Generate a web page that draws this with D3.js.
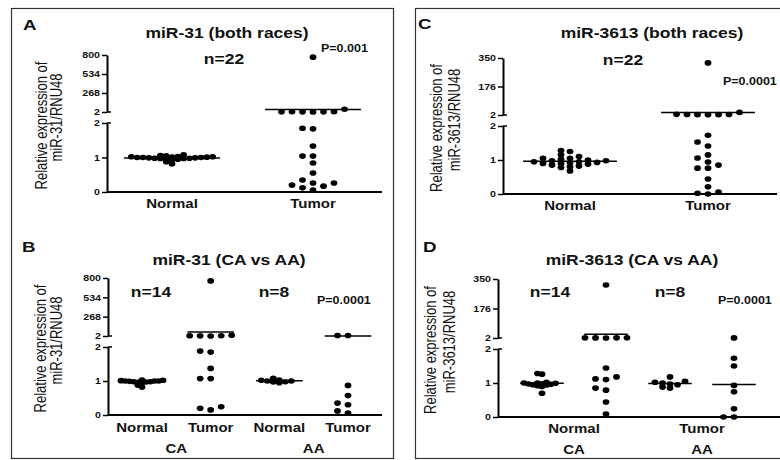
<!DOCTYPE html>
<html>
<head>
<meta charset="utf-8">
<script src="https://cdn.jsdelivr.net/npm/d3@7"></script>
<style>
body { margin: 0; background: #fff; }
svg { display: block; }
text { font-family: "Liberation Sans", Arial, sans-serif; fill: #111; }
</style>
</head>
<body>
<script>
// ---- values ----
var lowerTicks = [0, 1, 2];
var ticks31 = [2, 268, 534, 800];
var ticks3613 = [2, 176, 350];

// miR-31, both races (n=22)
var miR31NormalAll = [0.98, 1.0, 1.02, 0.97, 1.01, 0.99, 1.03, 0.96, 1.0, 1.08, 1.05, 0.95, 0.81, 0.88, 0.98, 1.01, 0.99, 1.06, 1.0, 0.97, 1.02, 0.93];
var miR31TumorAll = [770, 3, 4, 4, 5, 5, 6, 40, 1.85, 1.83, 1.33, 1.04, 1.04, 0.84, 0.55, 0.35, 0.26, 0.17, 0.06, 0.12, 0.2, 0.26];

// miR-3613, both races (n=22)
var miR3613NormalAll = [1.28, 1.25, 1.15, 1.1, 1.05, 1.05, 1.0, 0.98, 0.95, 0.95, 0.92, 0.9, 0.9, 0.88, 0.85, 0.82, 0.8, 0.78, 0.68, 0.98, 1.02, 0.93];
var miR3613TumorAll = [320, 18, 3, 4, 4, 5, 5, 6, 1.73, 1.53, 1.41, 1.15, 1.06, 0.94, 0.85, 0.76, 0.76, 0.44, 0.21, 0.06, 0.0, 0.02];

// miR-31, CA (n=14) vs AA (n=8)
var miR31NormalCA = [1.0, 0.98, 1.02, 0.97, 1.0, 0.99, 1.01, 0.96, 1.03, 0.98, 0.82, 0.88, 0.95, 1.0];
var miR31TumorCA = [760, 3, 4, 5, 6, 12, 1.88, 1.85, 1.37, 1.07, 1.07, 0.24, 0.15, 0.2];
var miR31NormalAA = [1.03, 0.98, 1.0, 1.08, 0.95, 1.0, 0.97, 1.02];
var miR31TumorAA = [8, 9, 0.87, 0.57, 0.3, 0.35, 0.06, 0.12];

// miR-3613, CA (n=14) vs AA (n=8)
var miR3613NormalCA = [1.26, 1.28, 0.97, 0.95, 1.0, 0.92, 0.98, 1.02, 0.94, 0.9, 0.99, 0.96, 0.7, 1.0];
var miR3613TumorCA = [315, 2.4, 2.6, 2.8, 3.0, 3.2, 1.44, 1.18, 1.12, 1.1, 0.85, 0.79, 0.44, 0.09];
var miR3613NormalAA = [1.18, 1.0, 1.05, 0.95, 1.02, 0.88, 0.85, 0.97];
var miR3613TumorAA = [2.5, 1.73, 1.5, 0.93, 0.74, 0.24, 0.0, 0.0];

var W = 780, H = 460;
var SX = 1.25;        // the source figure is stretched sideways
// [column spacing, vertical clearance] for the dot swarm
var LOOSE = [10.5, 5];

var svg = d3.select('body').append('svg').attr('width', W).attr('height', H);

// panel frames
svg.append('rect').attr('x', 11.5).attr('y', 8.5).attr('width', 382).attr('height', 450)
  .attr('fill', 'none').attr('stroke', '#333').attr('stroke-width', 1.2);
svg.append('rect').attr('x', 415.5).attr('y', 8.5).attr('width', 380).attr('height', 450)
  .attr('fill', 'none').attr('stroke', '#333').attr('stroke-width', 1.2);

function txt(g, x, y, s, o) {
  o = o || {};
  return g.append('text')
    .attr('transform', 'translate(' + x + ',' + y + ') scale(' + SX + ',1)' + (o.rot ? ' rotate(' + o.rot + ')' : ''))
    .attr('text-anchor', o.anchor || 'middle')
    .style('font-size', (o.size || 12) + 'px')
    .style('font-weight', o.weight || 'bold')
    .text(s);
}

// Prism style column scatter: dots sit on a grid of columns, pushed sideways when they'd overlap
function swarm(vals, yv, hitPx) {
  var pts = vals.map(function(v) { return {v: v, y: yv(v)}; })
    .sort(function(a, b) { return b.y - a.y; });
  var placed = [];
  pts.forEach(function(p) {
    for (var i = 0; ; i++) {
      var k = i === 0 ? 0 : (i % 2 ? -Math.ceil(i / 2) : Math.ceil(i / 2));
      var hit = placed.some(function(q) { return q.k === k && Math.abs(q.y - p.y) < hitPx; });
      if (!hit) { p.k = k; break; }
    }
    placed.push(p);
  });
  return pts;
}

function fixTicks(ax) {
  ax.attr('font-size', null).attr('font-family', null);
  ax.selectAll('.tick text').each(function() {
    var t = d3.select(this), x = +t.attr('x');
    t.attr('x', 0).attr('transform', 'translate(' + x + ',0) scale(' + SX + ',1)')
      .style('font-size', '8.5px').style('font-weight', 'bold');
  });
  ax.selectAll('.tick line').attr('stroke-width', 1.5);
  ax.select('.domain').attr('stroke-width', 2);
}

function panel(p) {
  var g = svg.append('g');
  var lo = d3.scaleLinear().domain([0, 2]).range([p.y0, p.y2l]);
  var hi = d3.scaleLinear().domain([2, p.top]).range([p.y2u, p.yTop]);
  var yv = function(v) { return v > 2 ? hi(v) : lo(v); };
  var x = d3.scalePoint().domain(d3.range(p.groups.length)).range(p.xRange);
  var half = x.step() * 0.34;

  // broken y axis
  var axLo = g.append('g').attr('transform', 'translate(' + p.axisX + ',0)')
    .call(d3.axisLeft(lo).tickValues(lowerTicks).tickFormat(d3.format('d'))
      .tickSize(5).tickPadding(2).tickSizeOuter(0));
  var axHi = g.append('g').attr('transform', 'translate(' + p.axisX + ',0)')
    .call(d3.axisLeft(hi).tickValues(p.upperTicks).tickFormat(d3.format('d'))
      .tickSize(5).tickPadding(2).tickSizeOuter(0));
  fixTicks(axLo); fixTicks(axHi);
  [p.y2l, p.y2u].forEach(function(yy) {
    g.append('line').attr('x1', p.axisX).attr('x2', p.axisX + 4).attr('y1', yy).attr('y2', yy)
      .attr('stroke', '#000').attr('stroke-width', 1.5);
  });

  // x axis
  g.append('line').attr('x1', p.axisX).attr('x2', p.axisRight).attr('y1', p.y0).attr('y2', p.y0)
    .attr('stroke', '#000').attr('stroke-width', 2);

  // dots and mean lines
  p.groups.forEach(function(vals, i) {
    var cx = x(i), sw = p.swarm[i];
    var m = d3.mean(vals);
    g.append('line').attr('x1', cx - half).attr('x2', cx + half)
      .attr('y1', yv(m)).attr('y2', yv(m)).attr('stroke', '#000').attr('stroke-width', 1.5);
    g.selectAll(null).data(swarm(vals, yv, sw[1])).enter().append('ellipse')
      .attr('cx', function(d) { return cx + d.k * sw[0]; })
      .attr('cy', function(d) { return d.y; })
      .attr('rx', 3.4).attr('ry', 2.8).attr('fill', '#000');
  });

  // category labels
  p.cats.forEach(function(c) {
    var cx = d3.mean(c.at, function(i) { return x(i); });
    txt(g, cx, c.y, c.text, {size: 12});
  });

  // titles and notes
  txt(g, p.letter[0], p.letter[1], p.id, {size: 15, anchor: 'start'});
  txt(g, p.titlePos[0], p.titlePos[1], p.title, {size: 14});
  p.notes.forEach(function(n) {
    txt(g, n.x, n.y, n.t, {size: n.size, anchor: n.anchor || 'middle'});
  });
  var mid = (p.y0 + p.yTop) / 2;
  txt(g, p.ylabX[0], mid + 2, 'Relative expression of', {size: 13, weight: 'normal', rot: -90});
  txt(g, p.ylabX[1], mid - 6, p.ylab2, {size: 13, weight: 'normal', rot: -90});
}

panel({
  id: 'A', letter: [23, 30], title: 'miR-31 (both races)', titlePos: [227, 38],
  axisX: 107, axisRight: 382, y0: 192, y2l: 123, y2u: 112, yTop: 55, top: 800, upperTicks: ticks31,
  xRange: [172, 313], groups: [miR31NormalAll, miR31TumorAll], swarm: [[5.8, 2.6], LOOSE],
  cats: [{text: 'Normal', at: [0], y: 208}, {text: 'Tumor', at: [1], y: 208}],
  notes: [{t: 'n=22', x: 224, y: 64, size: 14}, {t: 'P=0.001', x: 321, y: 52, size: 10, anchor: 'start'}],
  ylabX: [47, 62], ylab2: 'miR-31/RNU48'
});

panel({
  id: 'C', letter: [418, 29], title: 'miR-3613 (both races)', titlePos: [652, 38],
  axisX: 503, axisRight: 777, y0: 194, y2l: 126, y2u: 115, yTop: 58, top: 350, upperTicks: ticks3613,
  xRange: [570, 708], groups: [miR3613NormalAll, miR3613TumorAll], swarm: [[9, 4], LOOSE],
  cats: [{text: 'Normal', at: [0], y: 210}, {text: 'Tumor', at: [1], y: 210}],
  notes: [{t: 'n=22', x: 623, y: 65, size: 14}, {t: 'P=0.0001', x: 723, y: 85, size: 10, anchor: 'start'}],
  ylabX: [442, 460], ylab2: 'miR-3613/RNU48'
});

panel({
  id: 'B', letter: [22, 252], title: 'miR-31 (CA vs AA)', titlePos: [229, 265],
  axisX: 108, axisRight: 382, y0: 415, y2l: 347, y2u: 336, yTop: 278, top: 800, upperTicks: ticks31,
  xRange: [142, 348], groups: [miR31NormalCA, miR31TumorCA, miR31NormalAA, miR31TumorAA],
  swarm: [[4.2, 2.6], LOOSE, [6, 2.6], LOOSE],
  cats: [{text: 'Normal', at: [0], y: 432}, {text: 'Tumor', at: [1], y: 432},
         {text: 'Normal', at: [2], y: 432}, {text: 'Tumor', at: [3], y: 432},
         {text: 'CA', at: [0, 1], y: 453}, {text: 'AA', at: [2, 3], y: 453}],
  notes: [{t: 'n=14', x: 151, y: 297, size: 14}, {t: 'n=8', x: 274, y: 297, size: 14},
          {t: 'P=0.0001', x: 317, y: 304, size: 10, anchor: 'start'}],
  ylabX: [46, 62], ylab2: 'miR-31/RNU48'
});

panel({
  id: 'D', letter: [423, 252], title: 'miR-3613 (CA vs AA)', titlePos: [632, 265],
  axisX: 498, axisRight: 780, y0: 417, y2l: 349, y2u: 338, yTop: 279, top: 350, upperTicks: ticks3613,
  xRange: [542, 734], groups: [miR3613NormalCA, miR3613TumorCA, miR3613NormalAA, miR3613TumorAA],
  swarm: [[4.5, 2.6], LOOSE, [7.5, 4], LOOSE],
  cats: [{text: 'Normal', at: [0, 1], y: 433}, {text: 'Tumor', at: [2, 3], y: 433},
         {text: 'CA', at: [0, 1], y: 454}, {text: 'AA', at: [2, 3], y: 454}],
  notes: [{t: 'n=14', x: 550, y: 297, size: 14}, {t: 'n=8', x: 670, y: 297, size: 14},
          {t: 'P=0.0001', x: 718, y: 304, size: 10, anchor: 'start'}],
  ylabX: [436, 455], ylab2: 'miR-3613/RNU48'
});
</script>
</body>
</html>
